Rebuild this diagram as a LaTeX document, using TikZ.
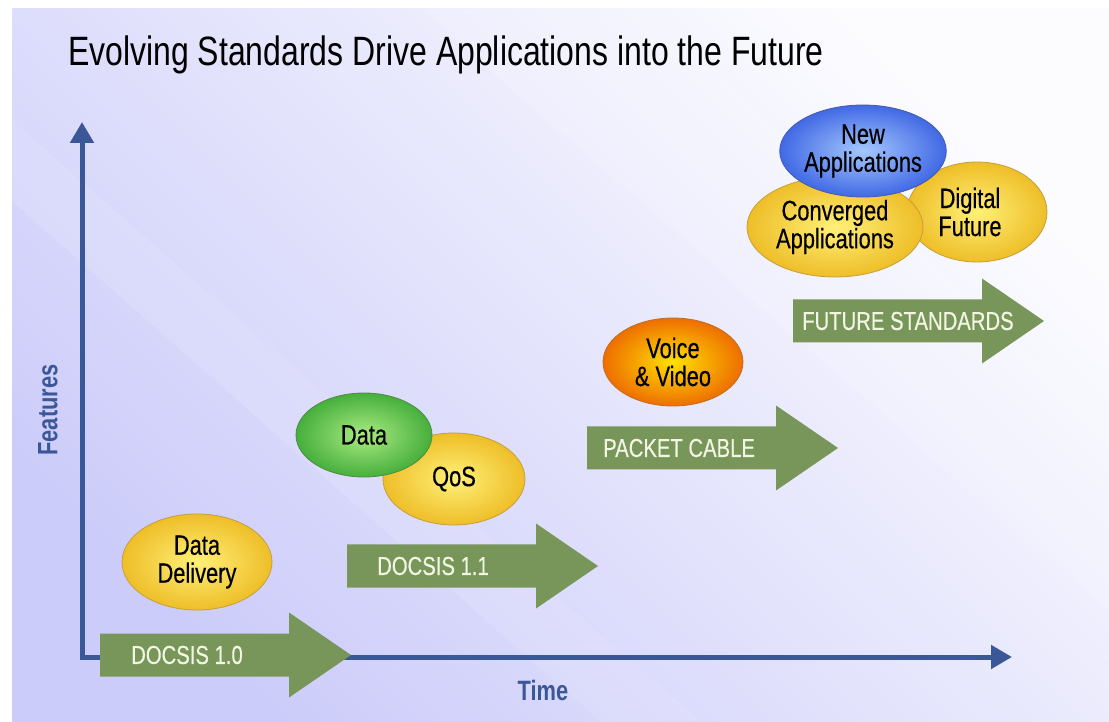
\documentclass[tikz,border=0pt]{standalone}
\usepackage{fontspec}
\usetikzlibrary{shapes.geometric,arrows.meta}
\newfontfamily\narrowsans[FakeStretch=0.78]{Liberation Sans}
\newfontfamily\narrowheavy[FakeStretch=0.78,FakeBold=0.4]{Liberation Sans}

\definecolor{bgdark}{RGB}{204,204,250}
\definecolor{bglight}{RGB}{252,252,255}
\definecolor{axisblue}{RGB}{58,88,152}
\definecolor{arrowgreen}{RGB}{120,149,90}
\definecolor{arrowtext}{RGB}{242,246,226}
\definecolor{yelin}{RGB}{255,240,120}
\definecolor{yelout}{RGB}{238,190,40}
\definecolor{yeledge}{RGB}{196,160,60}
\definecolor{grnin}{RGB}{170,235,130}
\definecolor{grnout}{RGB}{70,175,60}
\definecolor{grnedge}{RGB}{80,140,70}
\definecolor{blin}{RGB}{165,200,255}
\definecolor{blout}{RGB}{65,105,228}
\definecolor{bledge}{RGB}{70,90,170}
\definecolor{orin}{RGB}{255,225,0}
\definecolor{orout}{RGB}{238,110,0}
\definecolor{oredge}{RGB}{190,110,40}

\tikzset{
  bubble/.style={ellipse, inner sep=0pt, align=center, text=black,
    font=\narrowheavy\fontsize{28}{28}\selectfont, line width=0.8pt},
  yellowbubble/.style={bubble, shade, inner color=yelin, outer color=yelout, draw=yeledge},
  greenbubble/.style={bubble, shade, inner color=grnin, outer color=grnout, draw=grnedge},
  bluebubble/.style={bubble, shade, inner color=blin, outer color=blout, draw=bledge},
  orangebubble/.style={bubble, shade, inner color=orin, outer color=orout, draw=oredge},
  arrowlabel/.style={anchor=west, inner sep=0pt, text=arrowtext,
    font=\narrowheavy\fontsize{26}{26}\selectfont},
  axislabel/.style={text=axisblue, inner sep=0pt,
    font=\narrowsans\bfseries\fontsize{28}{28}\selectfont},
  axisline/.style={draw=axisblue, line width=5pt},
  stdarrow/.pic={
    \fill[arrowgreen] (0,-21.5) -- (189,-21.5) -- (189,-42.5) -- (251,0)
      -- (189,42.5) -- (189,21.5) -- (0,21.5) -- cycle;}
}

\begin{document}
\begin{tikzpicture}[x=1pt,y=1pt]
  \useasboundingbox (0,0) rectangle (1109,721);
  % backdrop: lavender deepening towards the lower left
  \fill[white] (0,0) rectangle (1109,721);
  \shade[bottom color=bgdark, top color=bglight, shading angle=-45]
    (12,0) rectangle (1109,712);
  \fill[white, opacity=0.15] (420,712) -- (640,712) -- (1109,300) -- (1109,110) -- cycle;
  \fill[white, opacity=0.10] (12,520) -- (12,600) -- (700,0) -- (600,0) -- cycle;

  % title
  \node[anchor=base west, inner sep=0pt, font=\narrowsans\fontsize{41}{41}\selectfont]
    (title) at (68,655) {Evolving Standards Drive Applications into the Future};

  % axes
  \coordinate (ytop) at (82,599);
  \coordinate (origin) at (82,64);
  \coordinate (xend) at (1012,64);
  \draw[axisline, {Triangle[length=21pt,width=23pt]}-{Triangle[length=21pt,width=23pt]}]
    (ytop) |- (xend);
  \node[axislabel, rotate=90] (features) at (48,311) {Features};
  \node[axislabel] (time) at (543,31) {Time};

  % standards
  \pic at (100,66) {stdarrow};
  \node[arrowlabel] (docsisA) at (131,66) {DOCSIS 1.0};
  \pic at (347,155) {stdarrow};
  \node[arrowlabel] (docsisB) at (377,155) {DOCSIS 1.1};
  \pic at (587,273) {stdarrow};
  \node[arrowlabel] (packet) at (603,273) {PACKET CABLE};
  \pic at (793,400) {stdarrow};
  \node[arrowlabel] (future) at (802,400) {FUTURE STANDARDS};

  % applications
  \node[yellowbubble, minimum width=150pt, minimum height=96pt] (delivery) at (197,159) {Data\\Delivery};
  \node[yellowbubble, minimum width=142pt, minimum height=92pt] (qos) at (454,242) {QoS};
  \node[greenbubble, minimum width=136pt, minimum height=84pt] (data) at (364,286) {Data};
  \node[orangebubble, minimum width=140pt, minimum height=88pt] (voice) at (673,359) {Voice\\\& Video};
  \node[yellowbubble, minimum width=140pt, minimum height=100pt] (digital) at (977,509) {Digital\hspace*{14pt}\\Future\hspace*{14pt}};
  \node[yellowbubble, minimum width=176pt, minimum height=100pt] (converged) at (835,494) {Converged\\Applications};
  \node[bluebubble, minimum width=162pt, minimum height=92pt] (newapps) at (863,570) {New\\Applications};
\end{tikzpicture}
\end{document}
